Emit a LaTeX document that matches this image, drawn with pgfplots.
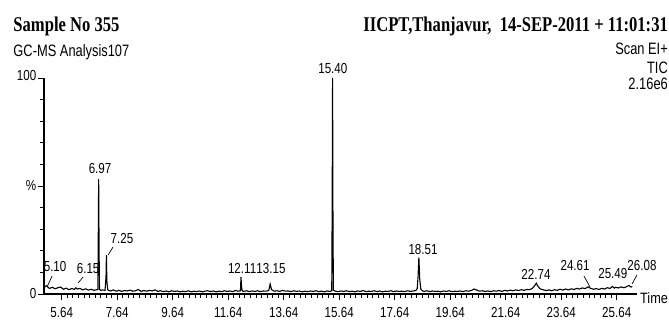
\documentclass[border=0pt]{standalone}
\usepackage{fontspec}
\setmainfont{Liberation Serif}
\setsansfont{Liberation Sans}
\usepackage{pgfplots}
\pgfplotsset{compat=1.18}
\newcommand\lab{\sffamily\fontsize{14.5}{15}\selectfont}
\newcommand\hdr{\sffamily\fontsize{16.5}{17}\selectfont}
\newcommand\ttl{\rmfamily\bfseries\fontsize{21}{22}\selectfont}
\begin{document}
\begin{tikzpicture}[x=1pt,y=1pt]
\useasboundingbox (0,0) rectangle (669,321);
\begin{axis}[
  at={(44pt,27pt)}, anchor=south west,
  scale only axis, width=592.7pt, height=216pt,
  xmin=5.0, xmax=26.36, ymin=0, ymax=100,
  axis lines=left, axis line style={-, black},
  x axis line style={line width=1.8pt},
  y axis line style={line width=1.2pt},
  clip=false,
  tick align=outside,
  xtick={5.64,7.64,9.64,11.64,13.64,15.64,17.64,19.64,21.64,23.64,25.64},
  xticklabels={5.64,7.64,9.64,11.64,13.64,15.64,17.64,19.64,21.64,23.64,25.64},
  minor x tick num=9,
  ytick={0,50,100},
  yticklabels={0,\%,\raisebox{5pt}{100}\hspace{6pt}},
  minor y tick num=4,
  major tick length=6pt, minor tick length=4pt,
  tick style={black, line width=0.9pt},
  xticklabel style={font=\lab, xscale=0.8, inner sep=0pt, yshift=-7pt},
  yticklabel style={font=\lab, xscale=0.8, inner sep=0pt, xshift=-2pt},
]
\addplot[black, line width=1.1pt] coordinates {
(5.00,2.8) (5.05,3.5) (5.10,3.9) (5.15,3.0) (5.20,2.6) (5.30,3.1) (5.40,2.4) (5.50,2.9) (5.60,3.2) (5.70,2.2)
(5.80,2.7) (5.90,2.0) (6.00,2.5) (6.10,2.2) (6.15,2.9) (6.20,2.3) (6.30,2.6) (6.40,1.9) (6.50,2.4) (6.60,1.8)
(6.70,2.2) (6.80,1.7) (6.90,2.0) (6.94,2.0) (6.955,25) (6.97,53.2) (6.985,20) (7.00,2.2) (7.05,1.6) (7.10,1.9)
(7.20,1.7) (7.235,8) (7.25,18) (7.265,6) (7.30,1.8) (7.40,1.4) (7.50,1.9) (7.60,1.3) (7.70,1.7) (7.80,1.2)
(7.90,1.6) (8.00,1.4) (8.10,1.8) (8.20,1.3) (8.30,1.5) (8.40,2.1) (8.50,1.2) (8.60,1.6) (8.70,1.3) (8.80,1.7)
(8.90,1.4) (9.00,1.9) (9.10,1.2) (9.20,1.5) (9.30,1.1) (9.40,1.4) (9.50,1.0) (9.60,1.5) (9.70,1.2) (9.80,1.4)
(9.90,1.0) (10.00,1.3) (10.10,1.1) (10.20,1.5) (10.30,1.0) (10.40,1.3) (10.50,1.1) (10.60,1.4) (10.70,1.0)
(10.80,1.3) (10.90,1.5) (11.00,1.1) (11.10,1.4) (11.20,1.0) (11.30,1.3) (11.40,1.1) (11.50,1.5) (11.60,1.2)
(11.70,1.4) (11.80,1.1) (11.90,1.6) (12.00,1.3) (12.08,1.5) (12.10,7.9) (12.12,3.0) (12.15,1.4) (12.20,1.2)
(12.30,1.5) (12.40,1.1) (12.50,1.4) (12.60,1.2) (12.70,1.5) (12.80,1.1) (12.90,1.4) (13.00,1.3) (13.10,1.6)
(13.15,4.6) (13.20,2.0) (13.30,1.3) (13.40,1.5) (13.50,1.2) (13.60,1.7) (13.70,1.3) (13.80,1.4) (13.90,1.1)
(14.00,1.5) (14.10,1.2) (14.20,1.4) (14.30,1.0) (14.40,1.3) (14.50,1.1) (14.60,1.4) (14.70,1.2) (14.80,1.5)
(14.90,1.1) (15.00,1.3) (15.10,1.0) (15.20,1.4) (15.30,1.2) (15.37,1.5) (15.385,40) (15.40,100) (15.415,30)
(15.43,1.8) (15.50,1.3) (15.60,1.1) (15.70,1.4) (15.80,1.2) (15.90,1.5) (16.00,1.1) (16.10,1.3) (16.20,1.0)
(16.30,1.4) (16.40,1.2) (16.50,1.6) (16.60,1.1) (16.70,1.3) (16.80,1.2) (16.90,1.5) (17.00,1.1) (17.10,1.4)
(17.20,1.0) (17.30,1.3) (17.40,1.2) (17.50,1.5) (17.60,1.1) (17.70,1.4) (17.80,1.2) (17.90,1.3) (18.00,1.1)
(18.10,1.5) (18.20,1.2) (18.30,1.4) (18.40,1.6) (18.45,2.5) (18.48,8) (18.51,17) (18.54,7) (18.58,2.2)
(18.65,1.4) (18.70,1.2) (18.80,1.5) (18.90,1.1) (19.00,1.4) (19.10,1.2) (19.20,1.3) (19.30,1.0) (19.40,1.4)
(19.50,1.2) (19.60,1.5) (19.70,1.1) (19.80,1.3) (19.90,1.2) (20.00,1.4) (20.10,1.1) (20.20,1.5) (20.30,1.3)
(20.40,1.6) (20.50,2.3) (20.60,1.8) (20.70,1.3) (20.80,1.5) (20.90,1.2) (21.00,1.4) (21.10,1.1) (21.20,1.5)
(21.30,1.3) (21.40,1.6) (21.50,1.2) (21.60,1.7) (21.70,1.4) (21.80,1.8) (21.90,1.5) (22.00,1.9) (22.10,1.6)
(22.20,2.0) (22.30,1.7) (22.40,2.1) (22.50,2.0) (22.60,2.6) (22.68,3.8) (22.74,5.0) (22.80,3.6) (22.88,2.4)
(23.00,1.9) (23.10,1.6) (23.20,1.9) (23.30,1.5) (23.40,2.0) (23.50,1.7) (23.60,2.2) (23.70,1.8) (23.80,2.3)
(23.90,1.9) (24.00,2.4) (24.10,2.1) (24.20,2.6) (24.30,2.3) (24.40,2.8) (24.50,2.5) (24.61,3.3) (24.70,2.6)
(24.80,2.2) (24.90,2.5) (25.00,2.1) (25.10,2.6) (25.20,2.3) (25.30,2.9) (25.40,2.6) (25.49,3.5) (25.55,2.7)
(25.60,3.1) (25.70,2.8) (25.80,3.3) (25.90,2.9) (26.00,3.4) (26.08,4.0) (26.15,3.2) (26.20,3.5)
};
% peak labels
\begin{scope}[every node/.style={font=\lab, xscale=0.8, inner sep=0pt, anchor=base}]
\node at (axis cs:5.40,10.6) {5.10};
\node at (axis cs:6.59,9.7) {6.15};
\node at (axis cs:7.02,55.6) {6.97};
\node at (axis cs:7.81,23.6) {7.25};
\node at (axis cs:12.14,9.3) {12.11};
\node at (axis cs:13.18,9.3) {13.15};
\node at (axis cs:15.41,102.3) {15.40};
\node at (axis cs:18.66,18.1) {18.51};
\node at (axis cs:22.73,6.9) {22.74};
\node at (axis cs:24.14,11.1) {24.61};
\node at (axis cs:25.50,7.4) {25.49};
\node at (axis cs:26.55,11.1) {26.08};
\end{scope}
\draw[line width=0.7pt] (axis cs:5.11,3.2) -- (axis cs:5.29,8.3);
\draw[line width=0.7pt] (axis cs:6.23,5.1) -- (axis cs:6.41,7.9);
\draw[line width=0.7pt] (axis cs:7.31,18) -- (axis cs:7.49,21.8);
\draw[line width=0.7pt] (axis cs:24.46,8.3) -- (axis cs:24.68,3.2);
\draw[line width=0.7pt] (axis cs:26.19,4.6) -- (axis cs:26.37,8.8);
\end{axis}
% header texts
\node[font=\ttl, xscale=0.79, inner sep=0pt, anchor=base west] at (13.3,289) {Sample No 355};
\node[font=\ttl, xscale=0.79, inner sep=0pt, anchor=base east] at (668,289) {IICPT,Thanjavur,\ \ 14-SEP-2011 + 11:01:31};
\node[font=\hdr, xscale=0.78, inner sep=0pt, anchor=base west] at (13.3,264.3) {GC-MS Analysis107};
\node[font=\hdr, xscale=0.78, inner sep=0pt, anchor=base east] at (668,266) {Scan EI+};
\node[font=\hdr, xscale=0.78, inner sep=0pt, anchor=base east] at (668,247) {TIC};
\node[font=\hdr, xscale=0.78, inner sep=0pt, anchor=base east] at (668,231.7) {2.16e6};
\node[font=\sffamily\fontsize{15}{15}\selectfont, inner sep=0pt, anchor=base west, xscale=0.85] at (640,17.7) {Time};
\end{tikzpicture}
\end{document}
